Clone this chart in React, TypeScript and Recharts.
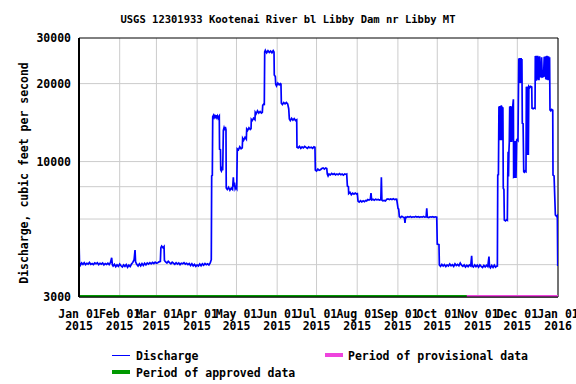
import React from 'react';
import {
  LineChart, Line, XAxis, YAxis, CartesianGrid, ReferenceArea, Label,
} from 'recharts';

// day of year 2015 (0 = Jan 01), discharge in cfs
const winterFlow = [
  [0, 4950], [0.4, 4050], [1, 3980], [2, 4060], [3, 4010], [4, 4070], [5, 4000], [6, 4050], [7, 4020],
  [8, 4080], [9, 4010], [10, 4040], [11, 4000], [12, 4060], [13, 4030], [14, 4070], [15, 4000],
  [16, 4050], [17, 4020], [18, 4060], [19, 3990], [20, 4040], [21, 4010], [22, 4050], [23, 4000],
  [24, 4080], [24.9, 4250], [25.4, 4000], [26, 3950], [27, 4010], [28, 3930], [29, 3990], [30, 3940],
  [31, 4020], [32, 3960], [33, 3920], [34, 3990], [35, 3940], [36, 4000], [37, 3910], [38, 3980],
  [39, 3930], [40, 4020], [41, 4080], [42, 4180], [42.7, 4550], [43.1, 4100], [44, 4010], [45, 3950],
  [46, 4030], [47, 3960], [48, 4040], [49, 3970], [50, 4050], [51, 3990], [52, 4060], [53, 4020],
  [54, 4070], [55, 4030], [56, 4080], [57, 4040], [58, 4090], [59, 4050], [60, 4070], [61, 4100],
  [62, 4120], [62.4, 4650], [63, 4720], [64, 4650], [64.8, 4700], [65.1, 4150], [66, 4100], [67, 4060],
  [68, 4120], [69, 4070], [70, 4030], [71, 4090], [72, 4050], [73, 4010], [74, 4070], [75, 4020],
  [76, 4060], [77, 4000], [78, 4050], [79, 4030], [80, 4070], [81, 4020], [82, 4050], [83, 4000],
  [84, 4040], [85, 3970], [86, 4030], [87, 3960], [88, 4010], [89, 3940], [90, 3990], [91, 3950],
  [92, 4020], [93, 3960], [94, 4030], [95, 3980], [96, 4040], [97, 4000], [98, 4030], [99, 3990],
  [100, 4060], [100.8, 4180],
];

const springFlow = [
  [101.1, 8800], [101.6, 8850], [101.9, 14900], [102.5, 15100], [103, 14800], [103.5, 15000],
  [104, 14700], [104.5, 15100], [105, 14800], [105.5, 15000], [106, 14700], [106.5, 14900],
  [106.9, 15000], [107.1, 11150], [107.8, 11100], [108, 9300], [108.5, 9200], [109, 9400],
  [109.5, 9250], [110, 13200], [110.5, 13500], [111, 13200], [111.5, 13600], [112, 13300],
  [112.2, 7900], [113, 7800], [114, 7950], [115, 7750], [116, 7900], [117, 7800], [117.6, 8700],
  [118, 8000], [118.5, 8300], [119, 7850], [119.5, 7950], [120.2, 7850], [120.6, 11200],
  [121.5, 11100], [122.5, 11400], [123.5, 11200], [124.4, 11300], [124.7, 12300], [125.5, 12100],
  [126.5, 12400], [127.5, 12200], [127.8, 13350], [128.5, 13200], [129.5, 13500], [130.5, 13300],
  [131.1, 13400], [131.3, 14550], [132, 14400], [133, 14700], [134.1, 14500], [134.3, 15500],
  [135, 15300], [136, 15700], [137, 15400], [138, 15600], [139, 15400], [139.7, 15500],
  [140, 16500], [140.8, 16700], [141.2, 16500], [141.5, 26500], [142, 26900], [143, 26300],
  [144, 26800], [145, 26400], [146, 26700], [147, 26300], [148, 26800], [148.6, 26500],
  [148.8, 21600], [149.6, 21300], [149.9, 19900], [150.5, 19600], [151.5, 20100], [152.5, 19800],
  [153.5, 20000], [153.9, 19900], [154.2, 16800], [155, 16600], [156, 16900], [157, 16700],
  [158, 16900], [159, 16700], [159.8, 16000], [160.3, 14600], [161, 14400], [162, 14700],
  [163, 14450], [164, 14650], [165, 14400], [165.9, 14500],
];

const summerFlow = [
  [166.1, 11360], [167, 11300], [168, 11450], [169, 11250], [170, 11400], [171, 11300], [172, 11450],
  [173, 11350], [174, 11250], [175, 11400], [176, 11300], [177, 11350], [178, 11250], [179, 11400],
  [179.8, 11350], [180.1, 9280], [181, 9200], [182, 9350], [183, 9250], [184, 9300], [185, 9400],
  [186, 9450], [187, 9350], [188, 9450], [188.8, 9400], [189.2, 8950], [189.8, 8800], [190.5, 8950],
  [191.5, 8880], [192.5, 9000], [193.5, 8920], [194.5, 8980], [195.5, 8880], [196.5, 8960],
  [197.5, 8900], [198.5, 8980], [199.5, 8900], [200.5, 8950], [201.5, 8870], [202.5, 8960],
  [203.5, 8920], [204, 8950], [204.5, 8050], [205.3, 8000], [205.5, 7520], [206.5, 7600],
  [207.5, 7450], [208.5, 7550], [209.5, 7480], [210.5, 7560], [211.5, 7500], [212.1, 7520],
  [212.6, 7040], [213.5, 6980], [214.5, 7060], [215.5, 6990], [216.5, 7050], [217.5, 7000],
  [218.5, 7080], [219.2, 7050], [220, 7130], [221, 7100], [222, 7160], [222.5, 7550], [223, 7110],
  [224, 7150], [225, 7090], [226, 7160], [227, 7120], [228, 7140], [229, 7100], [230, 7130],
  [230.4, 8700], [230.8, 7100], [231.5, 7050], [232.5, 7080], [233.5, 7040], [234.5, 7150],
  [235.5, 7180], [236.5, 7130], [237.5, 7170], [238.5, 7140], [239.5, 7180], [240.5, 7130],
  [241.5, 7160], [242.1, 7150], [243.1, 6600], [243.6, 6550], [244.1, 6130], [245, 6080],
  [246, 6150], [247, 6100], [248, 6050], [248.4, 5800], [248.8, 6100], [249.5, 6080], [250.5, 6130],
  [251.5, 6100], [252.5, 6140], [253.5, 6090], [254.5, 6120], [255.5, 6100], [256.5, 6140],
  [257.5, 6110], [258.5, 6130], [259.5, 6090], [260.5, 6120], [261.5, 6100], [262.5, 6140],
  [263.5, 6100], [264.5, 6120], [265, 6600], [265.4, 6100], [266.5, 6080], [267.5, 6120],
  [268.5, 6100], [269.5, 6130], [270.5, 6090], [271.5, 6120], [272.6, 6100],
];

const fallFlow = [
  [273, 4800], [274.3, 4780], [274.6, 3990], [275.5, 3940], [276.5, 4010], [277.5, 3950], [278.5, 4000],
  [279.5, 3930], [280.5, 3990], [281.5, 3950], [282.5, 4020], [283.5, 3960], [284.5, 4000],
  [285.5, 3940], [286.5, 4030], [287.5, 3970], [288.5, 4010], [289.5, 3960], [290.5, 4060],
  [291.5, 3980], [292.5, 3940], [293.5, 3990], [294.5, 3920], [295.5, 3980], [296.5, 3930],
  [297.5, 3990], [298.5, 3950], [299.2, 4330], [299.6, 3960], [300.5, 3920], [301.5, 3990],
  [302.5, 3930], [303.5, 3980], [304.5, 3910], [305.5, 3990], [306.5, 3940], [307.5, 3900],
  [308.5, 3970], [309.5, 3920], [310.5, 3980], [311.5, 3930], [312.4, 4300], [312.8, 3940],
  [313.5, 3890], [314.5, 3970], [315.5, 3900], [316.5, 3980], [317.5, 3910], [318.5, 3960],
  [318.8, 3930],
];

const winterOpsFlow = [
  [319.1, 8870], [319.6, 8900], [320, 16300], [320.3, 12100], [320.6, 16400], [320.9, 12200],
  [321.2, 16300], [321.5, 12100], [321.8, 16500], [322.1, 12200], [322.4, 16300], [322.7, 12100],
  [323, 16200], [323.3, 7890], [323.8, 7800], [324.1, 5950], [325, 5900], [326, 5980], [326.4, 5950],
  [326.7, 8700], [327, 10900], [327.3, 8750], [327.6, 10950], [327.9, 11900], [328.2, 16300],
  [328.5, 11900], [328.8, 16400], [329.1, 12000], [329.4, 16300], [329.7, 11900], [330, 16200],
  [330.3, 12100], [330.5, 16300], [331, 17400], [331.2, 8700], [332, 8750], [332.3, 12000],
  [332.6, 8700], [333, 8700], [333.5, 12100], [334, 12200], [334.5, 12100], [335.1, 25000],
  [335.4, 20100], [335.7, 25100], [336, 20200], [336.3, 25000], [336.6, 20100], [336.9, 25100],
  [337.2, 20200], [337.5, 24900], [337.8, 14050], [338.4, 14000], [338.9, 9140], [339.5, 9100],
  [340, 9200], [340.6, 9150], [340.9, 19470], [341.2, 10600], [341.5, 19500], [341.8, 10700],
  [342.1, 19400], [342.4, 10600], [342.8, 19500], [343.5, 19300], [344.2, 19500], [345, 19400],
  [345.2, 16060], [346, 16000], [347, 16100], [347.5, 16050], [347.7, 25570], [348, 21000],
  [348.3, 25600], [348.6, 20500], [348.9, 25500], [349.2, 20700], [349.5, 25600], [349.8, 21000],
  [350.1, 25400], [350.5, 20600], [351, 25500], [351.3, 21280], [352, 21300], [352.5, 25300],
  [353, 21200], [354, 21300], [354.5, 25400], [355.1, 21250], [355.4, 25500], [355.7, 20800],
  [356, 25500], [356.3, 20700], [356.6, 25600], [356.9, 20900], [357.2, 25400], [357.5, 20600],
  [357.8, 25500], [358.2, 21000], [358.6, 25300], [358.9, 15820], [359.5, 15700], [360.2, 15900],
  [361, 15800], [361.2, 8870], [362, 8800], [363, 6220], [363.8, 6150], [364.5, 6200], [364.8, 3950],
];

const approvedPeriod = [0, 297];
const provisionalPeriod = [297, 365];

const monthDays = [0, 31, 59, 90, 120, 151, 181, 212, 243, 273, 304, 334, 365];
const monthLabels = ['Jan 01', 'Feb 01', 'Mar 01', 'Apr 01', 'May 01', 'Jun 01', 'Jul 01',
  'Aug 01', 'Sep 01', 'Oct 01', 'Nov 01', 'Dec 01', 'Jan 01'];
const yearLabels = ['2015', '2015', '2015', '2015', '2015', '2015', '2015',
  '2015', '2015', '2015', '2015', '2015', '2016'];

const yTicks = [3000, 10000, 20000, 30000];
const gridValues = [4000, 5000, 6000, 7000, 8000, 9000, 10000, 20000];

const FONT = '"DejaVu Sans Mono", monospace';
const BLUE = '#0000ff';
const GREEN = '#009900';
const PINK = '#ee44dd';

const discharge = [...winterFlow, ...springFlow, ...summerFlow, ...fallFlow, ...winterOpsFlow]
  .map(([day, cfs]) => ({ day, cfs }));
const approved = approvedPeriod.map(day => ({ day, cfs: 3000 }));
const provisional = provisionalPeriod.map(day => ({ day, cfs: 3000 }));

const MonthTick = (props: any) => {
  const { x, y, payload } = props;
  const i = monthDays.indexOf(payload.value);
  return (
    <text x={x} y={y} textAnchor="middle" fontFamily={FONT} fontWeight="bold" fontSize={11.5} fill="#000">
      <tspan x={x} y={y + 12.5}>{monthLabels[i]}</tspan>
      <tspan x={x} y={y + 25}>{yearLabels[i]}</tspan>
    </text>
  );
};

const textStyle: React.CSSProperties = {
  position: 'absolute', fontFamily: FONT, fontWeight: 'bold', fontSize: 11.5,
  lineHeight: '14px', color: '#000', whiteSpace: 'nowrap',
};

export default function App() {
  return (
    <div style={{ position: 'absolute', left: 0, top: 0, width: 576, height: 384, background: '#fff' }}>
      <div style={{ ...textStyle, left: 0, top: 12, width: 576, textAlign: 'center', fontSize: 10.5 }}>
        USGS 12301933 Kootenai River bl Libby Dam nr Libby MT
      </div>
      <LineChart width={576} height={384} margin={{ top: 38, right: 18, bottom: 0, left: 0 }}>
        <CartesianGrid stroke="#cccccc" horizontalValues={gridValues} />
        <XAxis
          dataKey="day" type="number" domain={[0, 365]} ticks={monthDays}
          tick={<MonthTick />} tickLine={false} axisLine={{ stroke: '#000' }}
          height={87} allowDataOverflow
        />
        <YAxis
          dataKey="cfs" type="number" scale="log" domain={[3000, 30000]} ticks={yTicks}
          width={79} tickLine={false} axisLine={{ stroke: '#000', strokeWidth: 2 }} allowDataOverflow
          tick={{ fontFamily: FONT, fontWeight: 'bold', fontSize: 11.5, fill: '#000' }}
        >
          <Label
            content={() => (
              <text x={24} y={173} transform="rotate(-90 24 173)" textAnchor="middle"
                dominantBaseline="central" fontFamily={FONT} fontWeight="bold" fontSize={11.5} fill="#000">
                Discharge, cubic feet per second
              </text>
            )}
          />
        </YAxis>
        <ReferenceArea x1={0} x2={365} y1={3000} y2={30000} fill="none" stroke="#000" strokeWidth={1} />
        <Line data={discharge} dataKey="cfs" type="linear" stroke={BLUE} strokeWidth={1.7}
          dot={false} isAnimationActive={false} />
        <Line data={approved} dataKey="cfs" type="linear" stroke={GREEN} strokeWidth={4}
          strokeLinecap="square" dot={false} isAnimationActive={false} />
        <Line data={provisional} dataKey="cfs" type="linear" stroke={PINK} strokeWidth={4}
          strokeLinecap="square" dot={false} isAnimationActive={false} />
      </LineChart>

      <div style={{ position: 'absolute', left: 112, top: 355, width: 18, height: 1, background: BLUE }} />
      <div style={{ ...textStyle, left: 136, top: 349 }}>Discharge</div>
      <div style={{ position: 'absolute', left: 112, top: 370, width: 18, height: 4, background: GREEN }} />
      <div style={{ ...textStyle, left: 136, top: 366 }}>Period of approved data</div>
      <div style={{ position: 'absolute', left: 325, top: 353, width: 18, height: 4, background: PINK }} />
      <div style={{ ...textStyle, left: 348, top: 349 }}>Period of provisional data</div>
    </div>
  );
}
